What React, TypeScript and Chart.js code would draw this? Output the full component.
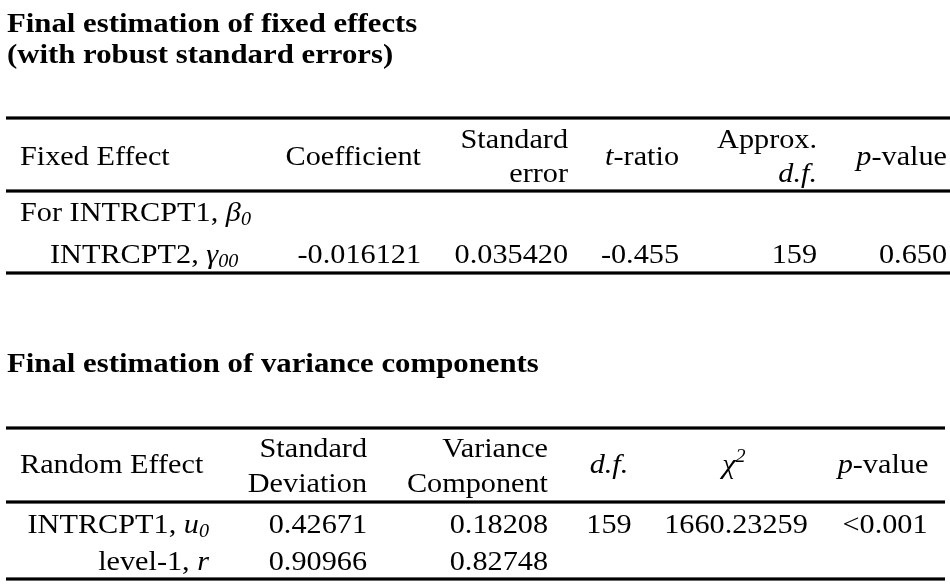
import { useEffect, useRef } from "react";
import { Chart, registerables } from "chart.js";

Chart.register(...registerables);

// ---------- content ----------
const fixedTitle = ["Final estimation of fixed effects", "(with robust standard errors)"];
const fixedHeaders = [
  ["Fixed Effect"],
  ["Coefficient"],
  ["Standard", "error"],
  ["*t*-ratio"],
  ["Approx.", "*d.f.*"],
  ["*p*-value"],
];
const fixedGroupLabel = "For INTRCPT1, *β*_{0}";
const fixedLabels = ["INTRCPT2, *γ*_{00}"];
const coefficients = [-0.016121];
const standardErrors = [0.03542];
const tRatios = [-0.455];
const approxDf = [159];
const fixedPValues = [0.65];

const varianceTitle = ["Final estimation of variance components"];
const varianceHeaders = [
  ["Random Effect"],
  ["Standard", "Deviation"],
  ["Variance", "Component"],
  ["*d.f.*"],
  ["*χ*^{2}"],
  ["*p*-value"],
];
const varianceLabels = ["INTRCPT1, *u*_{0}", "level-1, *r*"];
const stdDeviations = [0.42671, 0.90966];
const varianceComponents = [0.18208, 0.82748];
const varianceDf = [159];
const chiSquares = [1660.23259];
const variancePValues = ["<0.001"];

// ---------- rendering helpers ----------
const FAMILY = '"Liberation Serif", "Times New Roman", serif';
const SIZE = 27;
const HSCALE = 1.12;
const TITLE_HSCALE = 1.14;
const INK = "#000000";

type Seg = { t: string; italic: boolean; mode: "n" | "sub" | "sup" };

function parse(s: string): Seg[] {
  const out: Seg[] = [];
  let i = 0;
  let italic = false;
  let buf = "";
  const flush = () => {
    if (buf) out.push({ t: buf, italic, mode: "n" });
    buf = "";
  };
  while (i < s.length) {
    const c = s[i];
    if (c === "*") {
      flush();
      italic = !italic;
      i++;
    } else if ((c === "_" || c === "^") && s[i + 1] === "{") {
      flush();
      const end = s.indexOf("}", i);
      out.push({ t: s.slice(i + 2, end), italic: true, mode: c === "_" ? "sub" : "sup" });
      i = end + 1;
    } else {
      buf += c;
      i++;
    }
  }
  flush();
  return out;
}

function segFont(seg: Seg, bold: boolean) {
  const size = seg.mode === "n" ? SIZE : Math.round(SIZE * 0.66);
  return `${seg.italic ? "italic " : ""}${bold ? "bold " : ""}${size}px ${FAMILY}`;
}

function drawRich(
  ctx: CanvasRenderingContext2D,
  text: string,
  x: number,
  y: number,
  align: "left" | "right" | "center",
  bold = false,
  hs = HSCALE
) {
  const segs = parse(text);
  const widths = segs.map((s) => {
    ctx.font = segFont(s, bold);
    return ctx.measureText(s.t).width * hs;
  });
  const total = widths.reduce((a, b) => a + b, 0);
  let cx = align === "left" ? x : align === "right" ? x - total : x - total / 2;
  segs.forEach((s, k) => {
    ctx.font = segFont(s, bold);
    const dy = s.mode === "sub" ? 4 : s.mode === "sup" ? -11 : 0;
    ctx.save();
    ctx.translate(cx, y + dy);
    ctx.scale(hs, 1);
    ctx.fillStyle = INK;
    ctx.textBaseline = "alphabetic";
    ctx.textAlign = "left";
    ctx.fillText(s.t, 0, 0);
    ctx.restore();
    cx += widths[k];
  });
}

const fmt = (v: number | string, d: number) => (typeof v === "number" ? v.toFixed(d) : v);

const tablePlugin = {
  id: "statTables",
  beforeDraw(chart: any) {
    const ctx: CanvasRenderingContext2D = chart.ctx;
    ctx.save();
    ctx.fillStyle = "#ffffff";
    ctx.fillRect(0, 0, chart.width, chart.height);
    ctx.restore();
  },
  afterDraw(chart: any) {
    const ctx: CanvasRenderingContext2D = chart.ctx;
    const X = (v: number) => chart.scales.x.getPixelForValue(v);
    const Y = (v: number) => chart.scales.y.getPixelForValue(v);
    const rule = (x0: number, x1: number, y: number) => {
      ctx.save();
      ctx.fillStyle = INK;
      ctx.fillRect(X(x0), Y(y) - 1.6, X(x1) - X(x0), 3.2);
      ctx.restore();
    };

    // ---- Table 1 ----
    drawRich(ctx, fixedTitle[0], X(7), Y(32), "left", true, TITLE_HSCALE);
    drawRich(ctx, fixedTitle[1], X(7), Y(63), "left", true, TITLE_HSCALE);
    rule(6, 950, 118);
    rule(6, 950, 191);
    rule(6, 950, 273);

    const fCols: { x: number; align: "left" | "right" | "center" }[] = [
      { x: 20, align: "left" },
      { x: 421, align: "right" },
      { x: 568, align: "right" },
      { x: 679, align: "right" },
      { x: 817, align: "right" },
      { x: 947, align: "right" },
    ];
    fixedHeaders.forEach((lines, c) => {
      const ys = lines.length === 1 ? [165] : [148, 182];
      lines.forEach((ln, k) => drawRich(ctx, ln, X(fCols[c].x), Y(ys[k]), fCols[c].align));
    });
    drawRich(ctx, fixedGroupLabel, X(20), Y(221), "left");
    fixedLabels.forEach((lab, r) => {
      const y = Y(263 + r * 42);
      drawRich(ctx, lab, X(50), y, "left");
      drawRich(ctx, fmt(coefficients[r], 6), X(fCols[1].x), y, "right");
      drawRich(ctx, fmt(standardErrors[r], 6), X(fCols[2].x), y, "right");
      drawRich(ctx, fmt(tRatios[r], 3), X(fCols[3].x), y, "right");
      drawRich(ctx, String(approxDf[r]), X(fCols[4].x), y, "right");
      drawRich(ctx, fmt(fixedPValues[r], 3), X(fCols[5].x), y, "right");
    });

    // ---- Table 2 ----
    drawRich(ctx, varianceTitle[0], X(7), Y(372), "left", true, TITLE_HSCALE);
    rule(6, 945, 428);
    rule(6, 945, 502);
    rule(6, 945, 579);

    const vCols: { x: number; align: "left" | "right" | "center" }[] = [
      { x: 20, align: "left" },
      { x: 367, align: "right" },
      { x: 548, align: "right" },
      { x: 609, align: "center" },
      { x: 734, align: "center" },
      { x: 883, align: "center" },
    ];
    varianceHeaders.forEach((lines, c) => {
      const ys = lines.length === 1 ? [473] : [457, 492];
      lines.forEach((ln, k) => drawRich(ctx, ln, X(vCols[c].x), Y(ys[k]), vCols[c].align));
    });
    varianceLabels.forEach((lab, r) => {
      const y = Y(533 + r * 37);
      drawRich(ctx, lab, X(209), y, "right");
      drawRich(ctx, fmt(stdDeviations[r], 5), X(vCols[1].x), y, "right");
      drawRich(ctx, fmt(varianceComponents[r], 5), X(vCols[2].x), y, "right");
      if (r < varianceDf.length) {
        drawRich(ctx, String(varianceDf[r]), X(vCols[3].x), y, "center");
        drawRich(ctx, fmt(chiSquares[r], 5), X(736), y, "center");
        drawRich(ctx, String(variancePValues[r]), X(885), y, "center");
      }
    });
  },
};

export default function App() {
  const ref = useRef<HTMLCanvasElement | null>(null);
  useEffect(() => {
    if (!ref.current) return;
    const chart = new Chart(ref.current, {
      type: "scatter",
      data: { datasets: [{ data: [], pointRadius: 0 }] },
      options: {
        animation: false,
        responsive: false,
        events: [],
        layout: { padding: 0 },
        scales: {
          x: { type: "linear", min: 0, max: 950, display: false },
          y: { type: "linear", min: 0, max: 588, reverse: true, display: false },
        },
        plugins: {
          legend: { display: false },
          tooltip: { enabled: false },
          title: { display: false },
        },
      },
      plugins: [tablePlugin],
    });
    const fonts: any = (document as any).fonts;
    if (fonts && fonts.load) {
      Promise.all([
        fonts.load(`${SIZE}px "Liberation Serif"`),
        fonts.load(`bold ${SIZE}px "Liberation Serif"`),
        fonts.load(`italic ${SIZE}px "Liberation Serif"`),
      ])
        .then(() => chart.draw())
        .catch(() => {});
    }
    return () => chart.destroy();
  }, []);
  return (
    <div style={{ position: "fixed", left: 0, top: 0, width: 950, height: 588, background: "#fff" }}>
      <canvas ref={ref} width={950} height={588} style={{ display: "block", width: 950, height: 588 }} />
    </div>
  );
}
